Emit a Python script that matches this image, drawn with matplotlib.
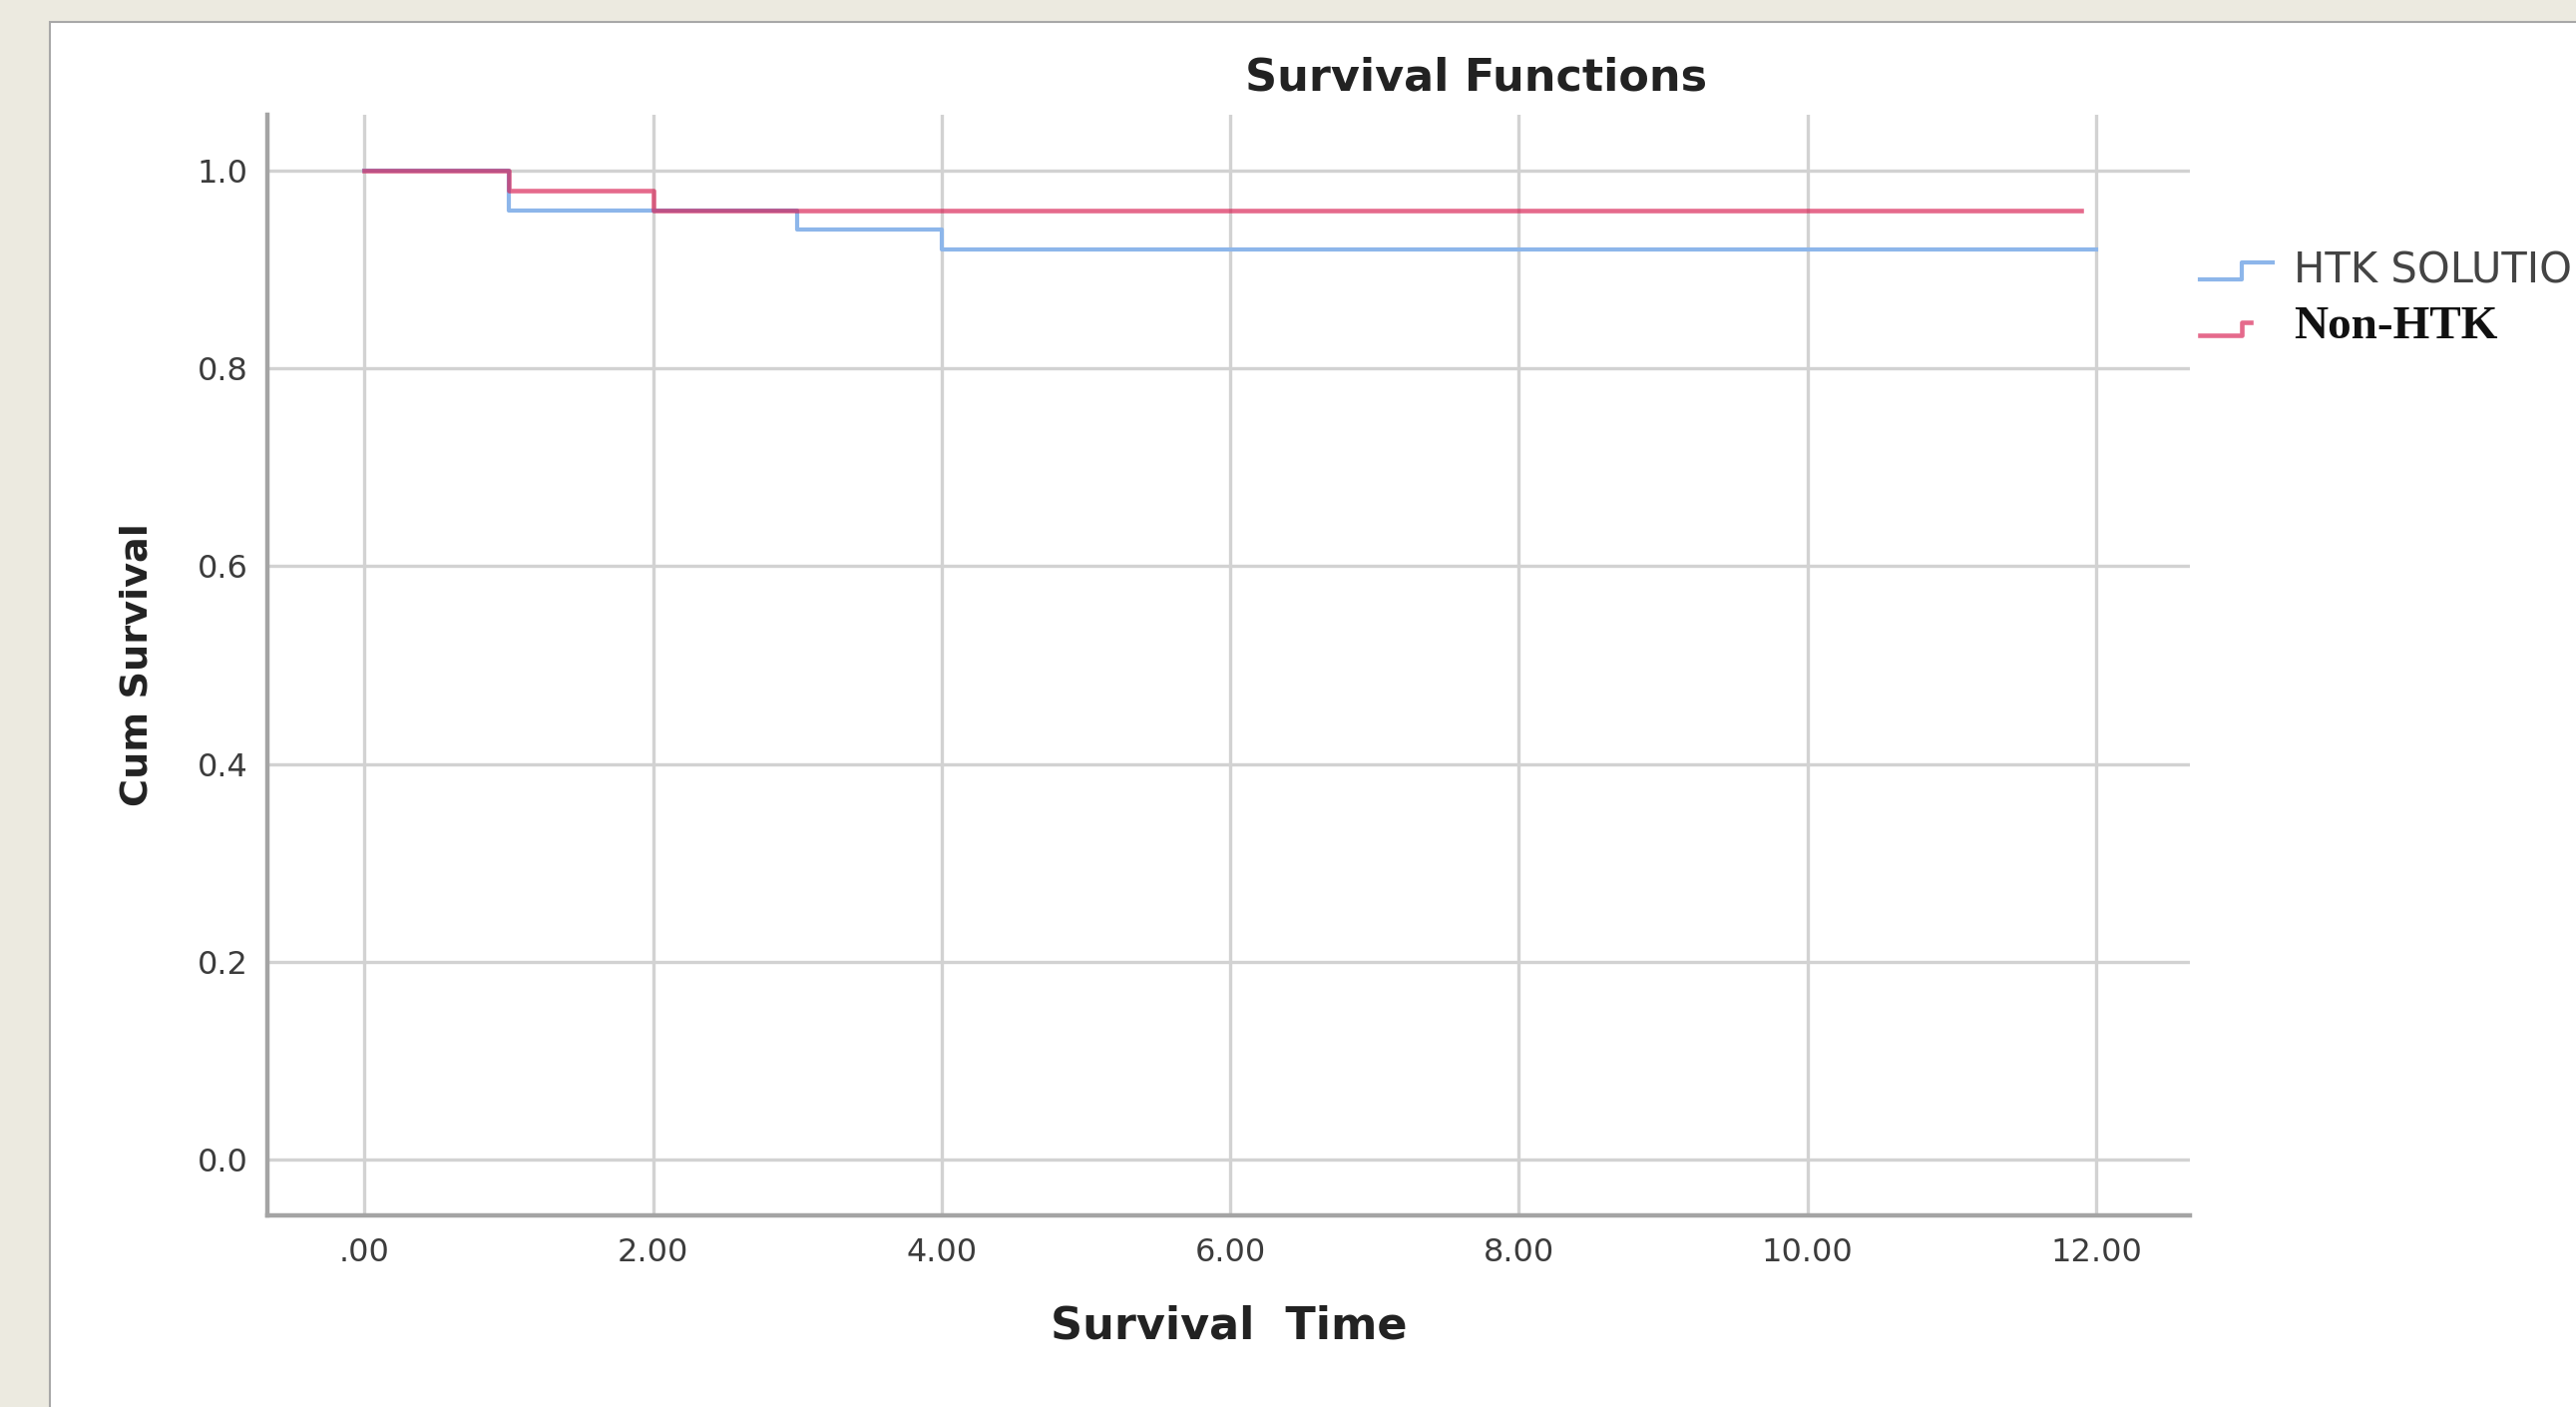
import numpy as np
import matplotlib
matplotlib.use('Agg')
import matplotlib.pyplot as plt
from matplotlib.patches import Rectangle
from matplotlib.lines import Line2D
from matplotlib.legend_handler import HandlerBase

# survival step data
htk_time = [0, 1, 3, 4, 12]
htk_surv = [1.0, 0.96, 0.94, 0.92, 0.92]
non_time = [0, 1, 2, 11.9]
non_surv = [1.0, 0.98, 0.96, 0.96]

xticks = [0, 2, 4, 6, 8, 10, 12]
xtick_labels = ['.00', '2.00', '4.00', '6.00', '8.00', '10.00', '12.00']
yticks = [0.0, 0.2, 0.4, 0.6, 0.8, 1.0]
ytick_labels = ['0.0', '0.2', '0.4', '0.6', '0.8', '1.0']
labels = ['HTK SOLUTION', 'Non-HTK']

blue = '#8DB6EA'
red = '#D81B4F'


class StepHandler(HandlerBase):
    # legend glyph drawn as a little step, like SPSS does
    def __init__(self, end_frac=1.0, rise=0.6):
        super().__init__()
        self.end_frac = end_frac
        self.rise = rise

    def create_artists(self, legend, orig_handle, xdescent, ydescent,
                       width, height, fontsize, trans):
        x0 = -xdescent
        xs = [x0, x0 + 0.57 * width, x0 + 0.57 * width, x0 + self.end_frac * width]
        ys = [0.1 * height, 0.1 * height, (0.1 + self.rise) * height, (0.1 + self.rise) * height]
        ln = Line2D(xs, ys, color=orig_handle.get_color(),
                    lw=orig_handle.get_linewidth(), alpha=orig_handle.get_alpha())
        ln.set_transform(trans)
        return [ln]


fig = plt.figure(figsize=(25.82, 14.10), dpi=100)
fig.patch.set_facecolor('#ECEAE0')
fig.patches.append(Rectangle((0.0194, -0.01), 1.0, 0.9944, transform=fig.transFigure,
                             facecolor='white', edgecolor='#A8A8A8', lw=1.5, zorder=-10))

ax = fig.add_axes([0.1038, 0.1362, 0.7463, 0.7822])
ax.set_facecolor('none')

l1, = ax.step(htk_time, htk_surv, where='post', color=blue, lw=3.0, zorder=3)
l2, = ax.step(non_time, non_surv, where='post', color=red, lw=3.3, alpha=0.65, zorder=4)

ax.set_xlim(-0.672, 12.65)
ax.set_ylim(-0.0565, 1.0565)
ax.set_xticks(xticks)
ax.set_xticklabels(xtick_labels)
ax.set_yticks(yticks)
ax.set_yticklabels(ytick_labels)
ax.tick_params(length=0, labelsize=23, labelcolor='#3C3C3C')
ax.tick_params(axis='y', pad=14)
ax.tick_params(axis='x', pad=16)

ax.grid(True, color='#D2D2D2', lw=2.4)
ax.set_axisbelow(True)
for s in ['top', 'right']:
    ax.spines[s].set_visible(False)
for s in ['left', 'bottom']:
    ax.spines[s].set_color('#A4A4A4')
    ax.spines[s].set_linewidth(3.2)

ax.set_xlabel('Survival  Time', fontsize=32, fontweight='bold', color='#222222', labelpad=26)
ax.set_ylabel('Cum Survival', fontsize=27.5, fontweight='bold', color='#222222', labelpad=30)

fig.text(0.573, 0.945, 'Survival Functions', fontsize=32, fontweight='bold',
         color='#222222', ha='center', va='center')

leg = ax.legend([l1, l2], labels,
                handler_map={l1: StepHandler(1.0, 0.6), l2: StepHandler(0.7, 0.45)},
                loc='upper left', bbox_to_anchor=(2205 / 2582, 1 - 250 / 1410),
                bbox_transform=fig.transFigure, frameon=False, fontsize=30,
                borderpad=0, borderaxespad=0, handlelength=1.75, handletextpad=0.5,
                labelspacing=0.35)
t1, t2 = leg.get_texts()
t1.set_color('#444444')
t2.set_family('Liberation Serif')
t2.set_fontsize(34)
t2.set_fontweight('bold')
t2.set_color('#111111')

plt.savefig('out.png', dpi=100, facecolor=fig.get_facecolor())
